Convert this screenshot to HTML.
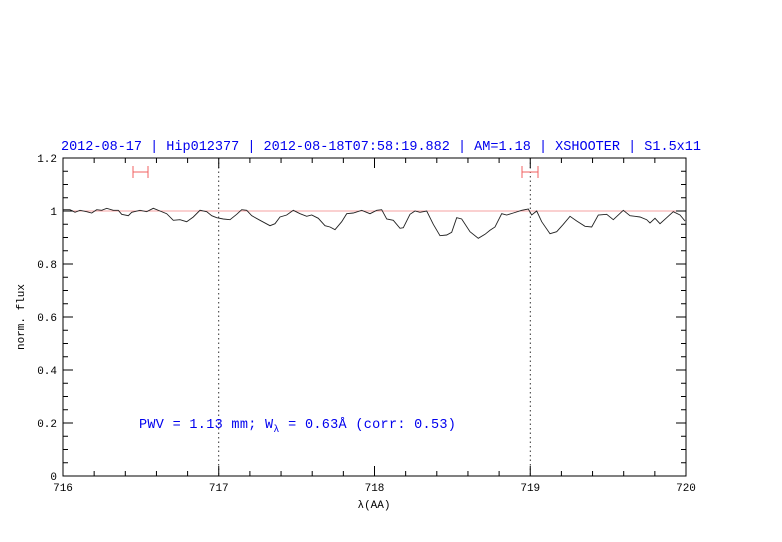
<!DOCTYPE html>
<html><head><meta charset="utf-8"><style>body{margin:0;background:#fff}svg{display:block}</style></head>
<body>
<svg id="s" width="782" height="542" xmlns="http://www.w3.org/2000/svg" font-family="Liberation Mono, DejaVu Sans Mono, monospace">
<rect x="63" y="158" width="623" height="318" fill="none" stroke="#000" stroke-width="1"/>
<line x1="63" y1="211" x2="686" y2="211" stroke="#f08080" stroke-width="0.8"/>
<line x1="218.75" y1="158" x2="218.75" y2="476" stroke="#000" stroke-width="0.8" stroke-dasharray="1.5,3"/>
<line x1="530.25" y1="158" x2="530.25" y2="476" stroke="#000" stroke-width="0.8" stroke-dasharray="1.5,3"/>
<g stroke="#f06060" stroke-width="1">
<line x1="133" y1="172" x2="148" y2="172"/><line x1="133" y1="166" x2="133" y2="178"/><line x1="148" y1="166" x2="148" y2="178"/>
<line x1="522" y1="172" x2="538" y2="172"/><line x1="522" y1="166" x2="522" y2="178"/><line x1="538" y1="166" x2="538" y2="178"/>
</g>
<polyline fill="none" stroke="#222" stroke-width="0.9" points="63.3,209.7 70,209.7 75,212.3 80,210.3 86.7,211.7 91.7,213 96.7,209.7 101.7,210.3 106.7,208.3 113.3,210.3 118.3,210.3 121.7,214.3 128.3,215.7 131.7,212.3 140,210.3 146.7,211.7 153.3,208.3 160,211 166.7,213.7 173.3,220.3 180,219.7 186.7,221.7 193.3,217 200,210.3 206.7,211.7 211.7,215.7 216.7,217.7 223.3,219 230,219.7 236.7,214.3 241.7,209.7 246.7,210.3 251.7,215.7 260,220.3 270,225.7 275,223.7 280,217 286.7,215 293.3,210.3 300,213.7 306.7,216.3 311.7,215 318.3,218.3 325,225.7 330,227 335,229.7 341.7,221.7 346.7,213.7 353.3,213 361.7,210.3 370,213.7 376.7,210.3 381.7,209.7 386.7,219 393.3,220.3 400,228.3 403.3,227.7 410,214.3 415,211 420,212.3 426.7,211 433.3,224.3 440,235.7 446.7,235 451.7,232.3 456.7,217.7 461.7,219 470,231.7 478.3,238.3 485,234.3 490,230.3 495,227 501.7,213.7 506.7,215 513.3,213 521.7,210.3 528.3,209 531.7,215 536.7,211 541.7,221.7 550,233.7 556.7,231.7 563.3,224.3 570,216.3 576.7,221 585,226.3 591.7,227 598.3,215 606.7,214.3 613.3,219.7 623.3,210.3 630,215.7 640,217 646.7,219.7 650,223 655,218.3 660,223.7 666.7,217.7 673.3,211.7 680,215 685,221"/>
<g id="t" stroke="#000" stroke-width="1"></g>
<g id="l" font-size="11" fill="#000"></g>
<text x="381" y="150" font-size="13.5" fill="#0000ee" text-anchor="middle">2012-08-17 | Hip012377 | 2012-08-18T07:58:19.882 | AM=1.18 | XSHOOTER | S1.5x11</text>
<text x="139" y="428" font-size="13.5" fill="#0000ee" letter-spacing="0.3">PWV = 1.13 mm; W<tspan font-size="10" dy="4">λ</tspan><tspan dy="-4"> = 0.63Å (corr: 0.53)</tspan></text>
<text x="374" y="508" font-size="11" text-anchor="middle">λ(AA)</text>
<text x="24" y="317" font-size="11" text-anchor="middle" transform="rotate(-90 24 317)">norm. flux</text>
</svg>
<script>
var t=document.getElementById('t'),l=document.getElementById('l'),h='',k='';
for(var i=0;i<=20;i++){var x=63+i*623/20,L=(i%5==0)?10:5;
h+='<line x1="'+x+'" y1="476" x2="'+x+'" y2="'+(476-L)+'"/><line x1="'+x+'" y1="158" x2="'+x+'" y2="'+(158+L)+'"/>';
if(i%5==0)k+='<text x="'+x+'" y="491" text-anchor="middle">'+(716+i/5)+'</text>';}
for(var j=0;j<=24;j++){var y=476-j*318/24,L=(j%4==0)?10:5;
h+='<line x1="63" y1="'+y+'" x2="'+(63+L)+'" y2="'+y+'"/><line x1="686" y1="'+y+'" x2="'+(686-L)+'" y2="'+y+'"/>';
if(j%4==0){var v=Math.round(j/4*2)/10;k+='<text x="57" y="'+(y+4)+'" text-anchor="end">'+v+'</text>';}}
t.innerHTML=h;l.innerHTML=k;
</script>
</body></html>
